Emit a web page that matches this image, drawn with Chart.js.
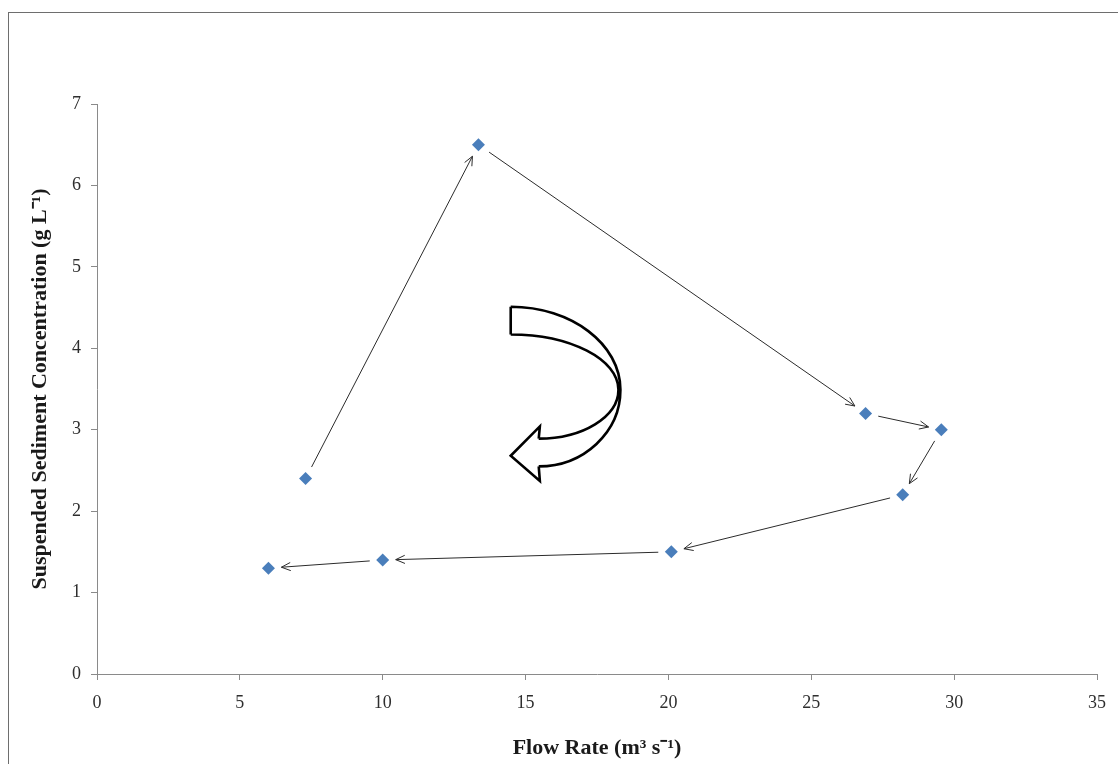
<!DOCTYPE html>
<html><head><meta charset="utf-8">
<script src="https://cdn.jsdelivr.net/npm/chart.js@4.4.1/dist/chart.umd.min.js"></script>
<style>
html,body{margin:0;padding:0;background:#fff;}
#wrap{position:relative;width:1118px;height:764px;overflow:hidden;background:#fff;}
#frame{position:absolute;left:8px;top:12px;width:1300px;height:900px;border-left:1px solid #6e6e6e;border-top:1px solid #6e6e6e;pointer-events:none;}
canvas{position:absolute;left:0;top:0;}
</style></head><body>
<div id="wrap"><canvas id="c" width="1118" height="764"></canvas><div id="frame"></div></div>
<script>
// ---- data ----
const flowRate = [7.3, 13.35, 26.9, 29.55, 28.2, 20.1, 10.0, 6.0];
const sedimentConc = [2.4, 6.5, 3.2, 3.0, 2.2, 1.5, 1.4, 1.3];
const xTicks = [0, 5, 10, 15, 20, 25, 30, 35];
const yTicks = [0, 1, 2, 3, 4, 5, 6, 7];
const xTitle = 'Flow Rate (m\u00B3 s\u207B\u00B9)';
const yTitle = 'Suspended Sediment Concentration (g L\u207B\u00B9)';

// hollow curved "clockwise" arrow annotation, in data units
const curvedArrow = {
  tailTop: [14.48, 4.51], tailBottom: [14.48, 4.17],
  outerRight: [18.32, 3.49], innerRight: [18.25, 3.49],
  shaftUpper: [15.46, 2.89], shaftLower: [15.46, 2.55],
  barbUpper: [15.5, 3.04], barbLower: [15.5, 2.37], tip: [14.48, 2.68]
};

const FONT = "'Liberation Serif', 'Times New Roman', serif";

const pathArrows = {
  id: 'pathArrows',
  beforeDatasetsDraw(chart) {
    const {ctx, scales: {x, y}} = chart;
    ctx.save();
    ctx.strokeStyle = '#2b2b2b';
    ctx.lineWidth = 1;
    const gap = 13, head = 10, ang = 0.42;
    for (let i = 0; i < flowRate.length - 1; i++) {
      const x1 = x.getPixelForValue(flowRate[i]), y1 = y.getPixelForValue(sedimentConc[i]);
      const x2 = x.getPixelForValue(flowRate[i + 1]), y2 = y.getPixelForValue(sedimentConc[i + 1]);
      const dx = x2 - x1, dy = y2 - y1, len = Math.hypot(dx, dy);
      const ux = dx / len, uy = dy / len;
      const sx = x1 + ux * gap, sy = y1 + uy * gap;
      const ex = x2 - ux * gap, ey = y2 - uy * gap;
      ctx.beginPath();
      ctx.moveTo(sx, sy); ctx.lineTo(ex, ey);
      const a = Math.atan2(dy, dx);
      ctx.moveTo(ex - head * Math.cos(a - ang), ey - head * Math.sin(a - ang));
      ctx.lineTo(ex, ey);
      ctx.lineTo(ex - head * Math.cos(a + ang), ey - head * Math.sin(a + ang));
      ctx.stroke();
    }
    // curved hollow arrow
    const P = k => [x.getPixelForValue(curvedArrow[k][0]), y.getPixelForValue(curvedArrow[k][1])];
    const K = 0.552;
    const tt = P('tailTop'), tb = P('tailBottom'), orr = P('outerRight'), ir = P('innerRight');
    const su = P('shaftUpper'), sl = P('shaftLower'), bu = P('barbUpper'), bl = P('barbLower'), tp = P('tip');
    ctx.strokeStyle = '#000';
    ctx.lineWidth = 2.6;
    ctx.lineJoin = 'miter';
    function quarter(a, r, e) {
      ctx.moveTo(a[0], a[1]);
      ctx.bezierCurveTo(a[0] + K * (r[0] - a[0]), a[1], r[0], r[1] - K * (r[1] - a[1]), r[0], r[1]);
      ctx.bezierCurveTo(r[0], r[1] + K * (e[1] - r[1]), e[0] + K * (r[0] - e[0]), e[1], e[0], e[1]);
    }
    ctx.beginPath();
    quarter(tt, orr, sl);
    quarter(tb, ir, su);
    ctx.moveTo(tt[0], tt[1]); ctx.lineTo(tb[0], tb[1]);
    ctx.moveTo(su[0], su[1]); ctx.lineTo(bu[0], bu[1]); ctx.lineTo(tp[0], tp[1]);
    ctx.lineTo(bl[0], bl[1]); ctx.lineTo(sl[0], sl[1]);
    ctx.stroke();
    ctx.restore();
  }
};

const axisCommon = {
  type: 'linear',
  border: {color: '#8a8a8a', width: 1},
  grid: {drawOnChartArea: false, drawTicks: true, tickLength: 6, color: '#8a8a8a'},
};

new Chart(document.getElementById('c'), {
  type: 'scatter',
  data: {
    datasets: [{
      data: flowRate.map((v, i) => ({x: v, y: sedimentConc[i]})),
      pointStyle: 'rectRot',
      pointRadius: 6.5,
      backgroundColor: '#4a7ebb',
      borderColor: '#4a7ebb',
      borderWidth: 0,
      showLine: false
    }]
  },
  options: {
    responsive: false,
    animation: false,
    layout: {padding: {top: 104, right: 19, bottom: 0, left: 0}},
    plugins: {legend: {display: false}, tooltip: {enabled: false}},
    scales: {
      x: {
        ...axisCommon,
        min: xTicks[0], max: xTicks[xTicks.length - 1],
        afterBuildTicks: s => { s.ticks = xTicks.map(v => ({value: v})); },
        afterFit: s => { s.height = 90; },
        ticks: {font: {family: FONT, size: 18}, color: '#2e2e2e', padding: 12, maxRotation: 0, autoSkip: false},
        title: {display: true, text: xTitle, color: '#1a1a1a',
          font: {family: FONT, size: 22, weight: 'bold'}, padding: {top: 0, bottom: 2}}
      },
      y: {
        ...axisCommon,
        min: yTicks[0], max: yTicks[yTicks.length - 1],
        afterBuildTicks: s => { s.ticks = yTicks.map(v => ({value: v})); },
        afterFit: s => { s.width = 97; },
        ticks: {font: {family: FONT, size: 18}, color: '#2e2e2e', padding: 10, autoSkip: false},
        title: {display: true, text: yTitle, color: '#1a1a1a',
          font: {family: FONT, size: 22, weight: 'bold'}, padding: {top: 27, bottom: 0}}
      }
    }
  },
  plugins: [pathArrows]
});
</script>
</body></html>
